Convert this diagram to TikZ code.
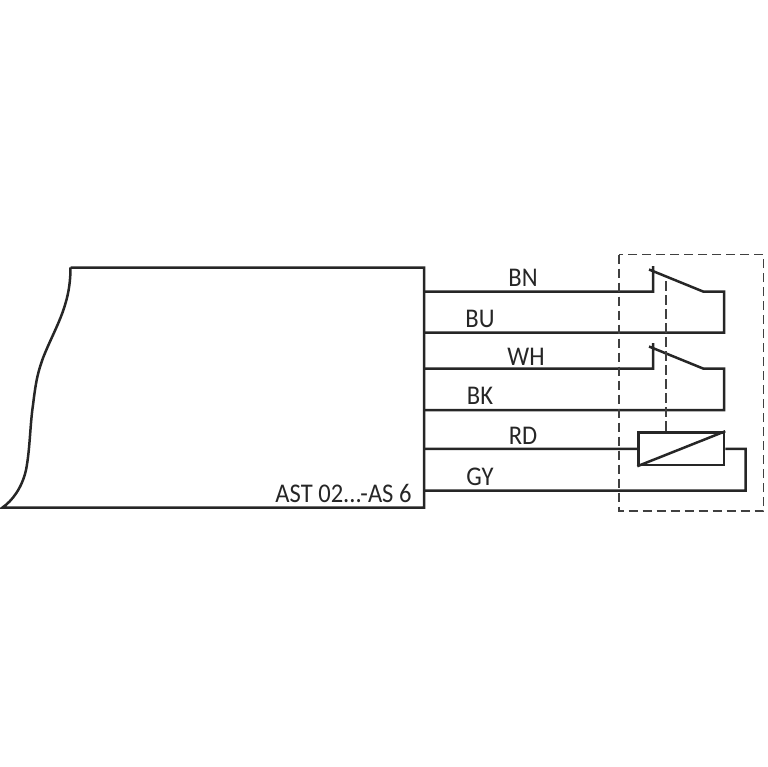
\documentclass[tikz,border=0pt]{standalone}
\usepackage{fontspec}
\newfontfamily\lblfont[FakeStretch=0.91]{Carlito}
\tikzset{
  wire/.style={line width=2.5pt, black!85},
  housing/.style={line width=1.5pt, black!75, dash pattern=on 9.5pt off 4.5pt},
  lbl/.style={inner sep=0pt, black!85, font=\lblfont\fontsize{27}{27}\selectfont}
}
\begin{document}
\begin{tikzpicture}[x=1pt,y=-1pt]
      \useasboundingbox (0,0) rectangle (767,767);
      % body
      \coordinate (tl) at (70.5,267.5);
      \coordinate (tr) at (424,267.5);
      \coordinate (br) at (424,507.5);
      \coordinate (bl) at (2.5,507.5);

      % first contact
      \coordinate (a0) at (424,291.5);
      \coordinate (a1) at (653,291.5);
      \coordinate (a2) at (653,266);
      \coordinate (a3) at (649,269.5);
      \coordinate (a4) at (703,291.5);
      \coordinate (a5) at (724,291.5);
      \coordinate (a6) at (724,332.5);
      \coordinate (a7) at (424,332.5);

      % second contact
      \coordinate (b0) at (424,368.5);
      \coordinate (b1) at (653,368.5);
      \coordinate (b2) at (653,343);
      \coordinate (b3) at (649,346.5);
      \coordinate (b4) at (703,368.5);
      \coordinate (b5) at (724,368.5);
      \coordinate (b6) at (724,410);
      \coordinate (b7) at (424,410);

      % coil
      \node (coil) at (681.25,448.75) [draw, wire, minimum width=85.5pt, minimum height=32.5pt, inner sep=0pt] {};
      \coordinate (c0) at (424,448.75);
      \coordinate (c1) at (745.5,448.75);
      \coordinate (c2) at (745.5,490.5);
      \coordinate (c3) at (424,490.5);

      % housing
      \coordinate (h0) at (619,254.5);
      \coordinate (h1) at (763.5,511);
      \coordinate (link) at (666,281);

      \node (bn) at (523,278) [lbl] {BN};
      \node (bu) at (480,319) [lbl] {BU};
      \node (wh) at (526,357) [lbl] {WH};
      \node (bk) at (480,396) [lbl] {BK};
      \node (rd) at (523,436) [lbl] {RD};
      \node (gy) at (480,477) [lbl] {GY};
      \node (type) at (343.5,493) [lbl] {AST 02...-AS 6};

      \draw[wire, line join=miter]
      (tl) -- (tr) -- (br) -- (bl)
      .. controls (12,501) and (22,488) .. (26,470)
      .. controls (30,450) and (30,425) .. (33,405)
      .. controls (36,380) and (38,372) .. (43,358)
      .. controls (50,340) and (60,322) .. (65,305)
      .. controls (69,292) and (70.5,280) .. (tl);

      \draw[wire]
      (a0) -- (a1) -- (a2)
      (a3) -- (a4) -- (a5) -- (a6) -- (a7)
      (b0) -- (b1) -- (b2)
      (b3) -- (b4) -- (b5) -- (b6) -- (b7)
      (c0) -- (coil.west)
      (coil.south west) -- (coil.north east)
      (coil.east) -- (c1) -- (c2) -- (c3);

      \draw[housing] (h0) rectangle (h1);
      \draw[housing] (link) -- (link |- coil.north);
    \end{tikzpicture}
\end{document}
